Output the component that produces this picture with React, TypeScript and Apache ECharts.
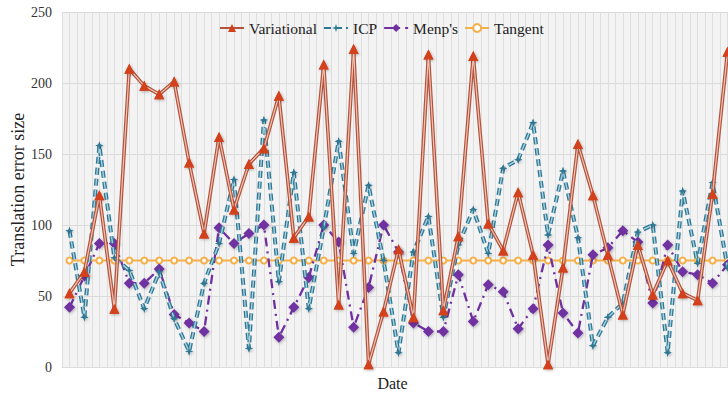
import React, { useEffect, useRef } from "react";
import * as echarts from "echarts";

const dates: string[] = Array.from({ length: 45 }, (_, i) => `D${i + 1}`);

const variational: number[] = [52, 67, 121, 41, 210, 198, 192, 201, 144, 94, 162, 111, 143, 154, 191, 91, 106, 213, 44, 224, 2, 39, 83, 35, 220, 40, 92, 219, 101, 82, 123, 79, 2, 70, 157, 121, 79, 37, 86, 51, 75, 52, 47, 122, 222];
const icp: number[] = [96, 35, 156, 77, 68, 41, 67, 34, 11, 59, 87, 132, 13, 174, 60, 137, 41, 98, 159, 80, 128, 75, 10, 81, 106, 35, 86, 111, 80, 140, 146, 172, 93, 138, 91, 15, 35, 45, 95, 100, 10, 124, 73, 130, 70];
const menps: number[] = [42, 64, 87, 87, 59, 59, 69, 37, 31, 25, 98, 87, 94, 100, 21, 42, 63, 100, 88, 28, 56, 100, 81, 31, 25, 25, 65, 32, 58, 53, 27, 41, 86, 38, 24, 79, 84, 96, 88, 45, 86, 67, 65, 59, 72];
const tangent: number[] = [75, 75, 75, 75, 75, 75, 75, 75, 75, 75, 75, 75, 75, 75, 75, 75, 75, 75, 75, 75, 75, 75, 75, 75, 75, 75, 75, 75, 75, 75, 75, 75, 75, 75, 75, 75, 75, 75, 75, 75, 75, 75, 75, 75, 75];

const seriesNames = ["Variational", "ICP", "Menp's", "Tangent"];

const FONT = "Liberation Serif";
const STAR = "path://M5,0 L6.2,3.8 L10,5 L6.2,6.2 L5,10 L3.8,6.2 L0,5 L3.8,3.8 Z";

export default function App() {
  const ref = useRef<HTMLDivElement>(null);

  useEffect(() => {
    if (!ref.current) return;
    const chart = echarts.init(ref.current, undefined, { renderer: "svg" });
    const halfSteps = dates.flatMap((d) => [d + "a", d + "b"]);
    const shadow = {
      shadowBlur: 3,
      shadowColor: "rgba(0,0,0,0.3)",
      shadowOffsetX: 1,
      shadowOffsetY: 1,
    };
    const icpDash = [7, 4];
    chart.setOption({
      animation: false,
      backgroundColor: "#ffffff",
      textStyle: { fontFamily: FONT },
      grid: {
        left: 62,
        top: 12,
        width: 673,
        height: 355,
        show: true,
        backgroundColor: "#f3f3f3",
        borderWidth: 0,
        containLabel: false,
        outerBoundsMode: "none",
      },
      legend: {
        data: seriesNames,
        left: 214,
        top: 15,
        itemWidth: 24,
        itemHeight: 10,
        itemGap: 6,
        textStyle: { fontFamily: FONT, fontSize: 15.5, color: "#222" },
      },
      xAxis: [
        {
          type: "category",
          data: dates,
          boundaryGap: true,
          axisLine: { show: true, lineStyle: { color: "#dcdcdc" } },
          axisTick: { show: false },
          axisLabel: { show: false },
          splitLine: { show: false },
          name: "Date",
          nameLocation: "middle",
          nameGap: 8,
          nameMoveOverlap: false,
          nameTextStyle: { fontFamily: FONT, fontSize: 16, color: "#222", padding: [0, 12, 0, 0] },
        },
        {
          type: "category",
          data: halfSteps,
          position: "bottom",
          boundaryGap: true,
          axisLine: { show: false },
          axisTick: { show: false, interval: 0 },
          axisLabel: { show: false, interval: 0 },
          splitLine: { show: true, interval: 0, lineStyle: { color: "#dedede", width: 1 } },
        },
      ],
      yAxis: {
        type: "value",
        min: 0,
        max: 250,
        interval: 50,
        axisLine: { show: false },
        axisTick: { show: false },
        axisLabel: { fontFamily: FONT, fontSize: 14, color: "#333", margin: 10 },
        splitLine: { show: true, lineStyle: { color: "#dadada", width: 1 } },
        name: "Translation error size",
        nameLocation: "middle",
        nameGap: 35,
        nameMoveOverlap: false,
        nameTextStyle: { fontFamily: FONT, fontSize: 18, color: "#222" },
      },
      series: [
        {
          name: "Tangent",
          type: "line",
          data: tangent,
          z: 2,
          showAllSymbol: true,
          symbol: "emptyCircle",
          symbolSize: 6,
          lineStyle: { color: "#f5b04a", width: 1.8 },
          itemStyle: { color: "#f5b04a", borderWidth: 1.2 },
        },
        {
          name: "Menp's",
          type: "line",
          data: menps,
          z: 3,
          showAllSymbol: true,
          symbol: "diamond",
          symbolSize: 11,
          lineStyle: { color: "#7030a0", width: 2.3, type: [9, 5, 2, 5] },
          itemStyle: { color: "#7030a0", ...shadow },
        },
        {
          name: "ICP",
          type: "line",
          data: icp,
          z: 4,
          showAllSymbol: true,
          symbol: STAR,
          symbolSize: 8,
          lineStyle: { color: "#2f7894", width: 4, type: icpDash },
          itemStyle: { color: "#2f7894", ...shadow },
        },
        {
          name: "ICP inner",
          type: "line",
          data: icp,
          z: 5,
          silent: true,
          showSymbol: false,
          lineStyle: { color: "#a9d0df", width: 1.4, type: icpDash },
        },
        {
          name: "ICP marks",
          type: "line",
          data: icp,
          z: 6,
          silent: true,
          showAllSymbol: true,
          symbol: STAR,
          symbolSize: 8,
          lineStyle: { width: 0, opacity: 0 },
          itemStyle: { color: "#2f7894" },
        },
        {
          name: "Variational",
          type: "line",
          data: variational,
          z: 7,
          showAllSymbol: true,
          symbol: "triangle",
          symbolSize: 10,
          lineStyle: { color: "#b4533b", width: 3.6 },
          itemStyle: { color: "#d2411c", ...shadow },
        },
        {
          name: "Variational inner",
          type: "line",
          data: variational,
          z: 8,
          silent: true,
          showSymbol: false,
          lineStyle: { color: "#efc4b6", width: 1.2 },
        },
        {
          name: "Variational marks",
          type: "line",
          data: variational,
          z: 9,
          silent: true,
          showAllSymbol: true,
          symbol: "triangle",
          symbolSize: 10,
          lineStyle: { width: 0, opacity: 0 },
          itemStyle: { color: "#d2411c" },
        },
      ],
    });
    return () => chart.dispose();
  }, []);

  return (
    <div
      style={{
        position: "fixed",
        left: 0,
        top: 0,
        width: 728,
        height: 396,
        overflow: "hidden",
        background: "#fff",
      }}
    >
      <div ref={ref} style={{ width: 745, height: 396 }} />
    </div>
  );
}
